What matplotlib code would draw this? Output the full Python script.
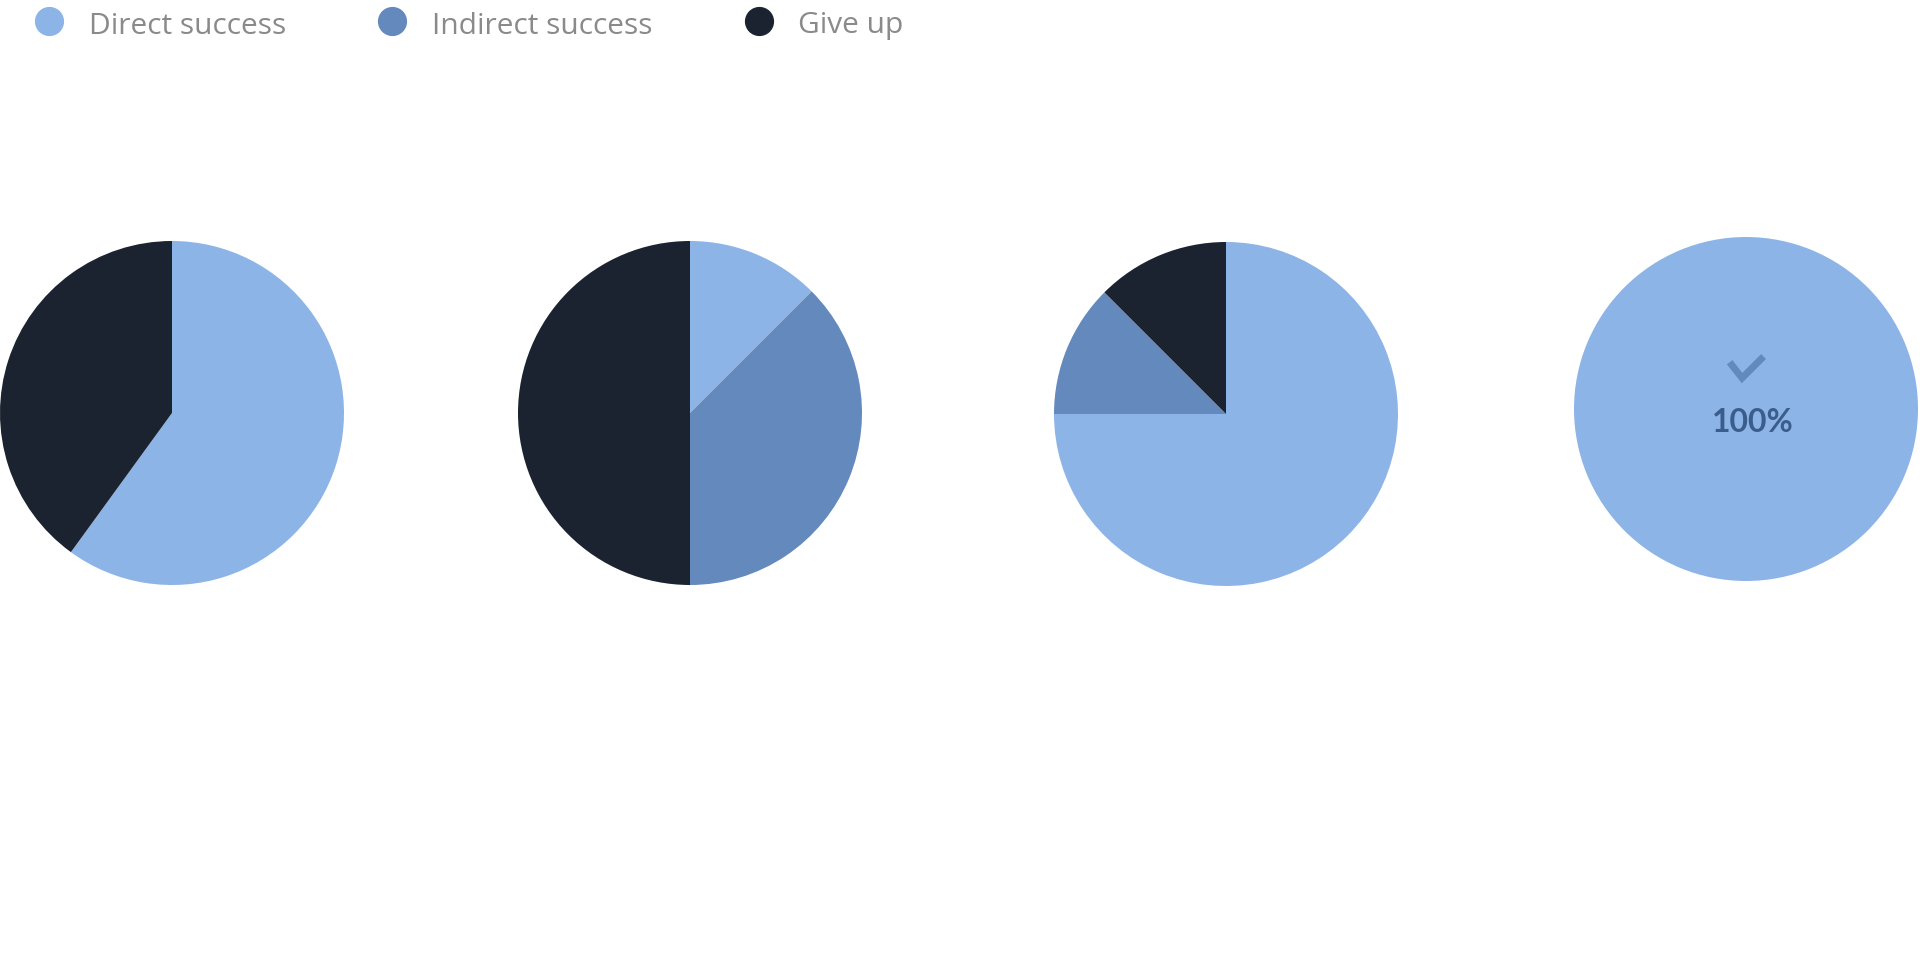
import matplotlib
matplotlib.use('Agg')
import matplotlib.pyplot as plt
from matplotlib.lines import Line2D

categories = ['Direct success', 'Indirect success', 'Give up']
colors = ['#8db4e7', '#6489bd', '#1b2330']

# share of each outcome per task (percent)
task_1 = [60, 0, 40]
task_2 = [12.5, 37.5, 50]
task_3 = [75, 12.5, 12.5]
task_4 = [100, 0, 0]
tasks = [task_1, task_2, task_3, task_4]

W, H = 1920, 978
fig = plt.figure(figsize=(W / 100, H / 100), dpi=100)
fig.patch.set_facecolor('white')

# pie centres in pixels (x from left, y from top) and radius
centres = [(172, 414), (690, 414), (1226, 415), (1746, 410)]
r = 172

for vals, (cx, cy) in zip(tasks, centres):
    ax = fig.add_axes([(cx - r) / W, 1 - (cy + r) / H, 2 * r / W, 2 * r / H])
    ax.pie(vals, colors=colors, startangle=90, counterclock=False, radius=1,
           wedgeprops={'linewidth': 0})
    ax.set_xlim(-1, 1)
    ax.set_ylim(-1, 1)
    ax.set_aspect('equal')
    ax.axis('off')
    if vals[0] == 100:
        # check-mark icon
        ax.plot([-0.095, -0.023, 0.102], [0.272, 0.180, 0.305], color='#6489bd',
                lw=5, solid_joinstyle='miter', solid_capstyle='butt')
        ax.text(0.04, -0.07, '100%', ha='center', va='center', fontsize=23,
                fontweight='bold', color='#3b5d8c', family='Lato')

# legend, laid out by hand: marker x, text x (pixels)
marker_x = [49, 392, 759]
text_x = [89, 432, 798]
ly = 1 - 22 / H
for name, c, mx, tx in zip(categories, colors, marker_x, text_x):
    fig.add_artist(Line2D([mx / W], [ly], marker='o', linestyle='', markersize=20,
                          markerfacecolor=c, markeredgecolor=c,
                          transform=fig.transFigure))
    fig.text(tx / W, 1 - 26 / H, name, ha='left', va='center', fontsize=21.5,
             family='Open Sans', color='#8a8a8a')

fig.savefig('out.png', dpi=100)
